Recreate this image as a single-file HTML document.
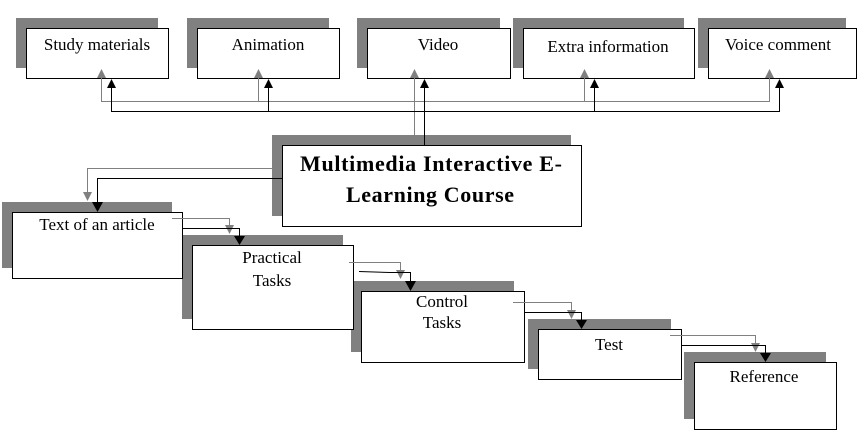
<!DOCTYPE html>
<html><head><meta charset="utf-8"><style>
html,body{margin:0;padding:0;background:#fff;}
svg{display:block;}
text{font-family:"Liberation Serif",serif;fill:#000;}
</style></head><body>
<svg width="865" height="440" viewBox="0 0 865 440" xmlns="http://www.w3.org/2000/svg">
<g fill="#808080">
<rect x="16" y="18" width="142" height="50"/>
<rect x="187" y="18" width="142" height="50"/>
<rect x="357" y="18" width="143" height="50"/>
<rect x="513" y="18" width="171" height="50"/>
<rect x="698" y="18" width="148" height="50"/>
<rect x="272" y="135" width="299" height="81"/>
<rect x="2" y="202" width="170" height="66"/>
<rect x="182" y="235" width="161" height="84"/>
<rect x="351" y="281" width="163" height="71"/>
<rect x="528" y="319" width="143" height="50"/>
<rect x="684" y="352" width="142" height="67"/>
</g>
<g fill="#fff" stroke="#000" stroke-width="1">
<rect x="26.5" y="28.5" width="142" height="50"/>
<rect x="197.5" y="28.5" width="142" height="50"/>
<rect x="367.5" y="28.5" width="143" height="50"/>
<rect x="523.5" y="28.5" width="171" height="50"/>
<rect x="708.5" y="28.5" width="148" height="50"/>
<rect x="282.5" y="145.5" width="299" height="81"/>
<rect x="12.5" y="212.5" width="170" height="66"/>
<rect x="192.5" y="245.5" width="161" height="84"/>
<rect x="361.5" y="291.5" width="163" height="71"/>
<rect x="538.5" y="329.5" width="143" height="50"/>
<rect x="694.5" y="362.5" width="142" height="67"/>
</g>
<g fill="none" stroke="#808080" stroke-width="1">
<path d="M414.5,135 V101.5 M101.5,78 V101.5 H769.5 V78 M258.5,78 V101.5 M584.5,78 V101.5 M414.5,78 V101.5"/>
<path d="M272,168.5 H87.5 V192"/>
<path d="M172,218.5 H229.5 V225"/>
<path d="M349,262.5 H400.5 V270"/>
<path d="M513,302.5 H571.5 V310"/>
<path d="M670,335.5 H755.5 V343"/>
</g>
<g fill="#808080">
<path d="M97,78 L101.5,69 L106,78Z M254,78 L258.5,69 L263,78Z M410,78 L414.5,69 L419,78Z M580,78 L584.5,69 L589,78Z M765,78 L769.5,69 L774,78Z"/>
<path d="M83,192 L87.5,201 L92,192Z"/>
<path d="M225,225 L229.5,234 L234,225Z"/>
<path d="M396,270 L400.5,279 L405,270Z"/>
<path d="M567,310 L571.5,319 L576,310Z"/>
<path d="M751,343 L755.5,352 L760,343Z"/>
</g>
<g fill="none" stroke="#000" stroke-width="1">
<path d="M424.5,145 V111.5 M111.5,88 V111.5 H779.5 V88 M268.5,88 V111.5 M594.5,88 V111.5 M424.5,88 V111.5"/>
<path d="M282,178.5 H97.5 V202"/>
<path d="M182,228.5 H239.5 V236"/>
<path d="M359,271.5 L390,272.5 H410.5 V281"/>
<path d="M524,312.5 H581.5 V320"/>
<path d="M681,345.5 H765.5 V353"/>
</g>
<g fill="#000">
<path d="M107,88 L111.5,79 L116,88Z M264,88 L268.5,79 L273,88Z M420,88 L424.5,79 L429,88Z M590,88 L594.5,79 L599,88Z M775,88 L779.5,79 L784,88Z"/>
<path d="M92,202 L97.5,212 L103,202Z"/>
<path d="M234,236 L239.5,245 L245,236Z"/>
<path d="M405,281 L410.5,291 L416,281Z"/>
<path d="M576,320 L581.5,329 L587,320Z"/>
<path d="M760,353 L765.5,362 L771,353Z"/>
</g>
<g font-size="17" text-anchor="middle">
<text x="97" y="50">Study materials</text>
<text x="268" y="50">Animation</text>
<text x="438" y="50">Video</text>
<text x="608" y="52">Extra information</text>
<text x="778" y="50">Voice comment</text>
<text x="97" y="230">Text of an article</text>
<text x="272" y="263">Practical</text>
<text x="272" y="286">Tasks</text>
<text x="442" y="307">Control</text>
<text x="442" y="328">Tasks</text>
<text x="609" y="350">Test</text>
<text x="764" y="382">Reference</text>
</g>
<g font-size="22" font-weight="bold" text-anchor="middle">
<text x="431" y="171" textLength="262" lengthAdjust="spacing">Multimedia Interactive E-</text>
<text x="430" y="202" textLength="168" lengthAdjust="spacing">Learning Course</text>
</g>
</svg>
</body></html>
